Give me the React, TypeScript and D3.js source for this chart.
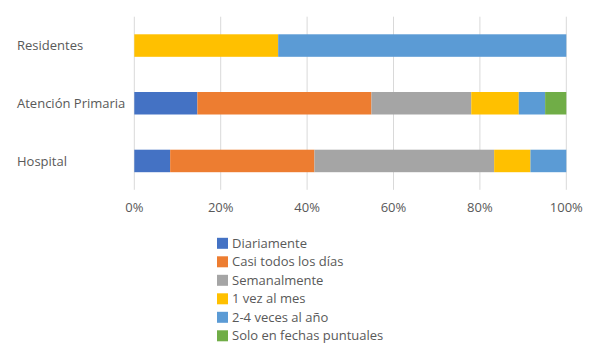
import React, { useEffect, useRef } from 'react';
import * as d3 from 'd3';

const categories = ['Residentes', 'Atención Primaria', 'Hospital'];
const seriesNames = [
  'Diariamente',
  'Casi todos los días',
  'Semanalmente',
  '1 vez al mes',
  '2-4 veces al año',
  'Solo en fechas puntuales',
];
const seriesColors = ['#4472c4', '#ed7d31', '#a5a5a5', '#ffc000', '#5b9bd5', '#70ad47'];
// percentages per category, in series order
const residentes = [0, 0, 0, 33.3, 66.7, 0];
const atencionPrimaria = [14.6, 40.3, 23.1, 11.0, 6.1, 4.9];
const hospital = [8.3, 33.4, 41.6, 8.4, 8.3, 0];
const tickValues = [0, 0.2, 0.4, 0.6, 0.8, 1];

const App: React.FC = () => {
  const svgRef = useRef<SVGSVGElement>(null);

  useEffect(() => {
    if (!svgRef.current) return;
    const svg = d3.select(svgRef.current);
    svg.selectAll('*').remove();

    const width = 600;
    const height = 360;
    const font = "'Open Sans', sans-serif";
    const textColor = '#595959';

    svg.attr('width', width).attr('height', height);
    svg.append('rect').attr('width', width).attr('height', height).attr('fill', '#fff');

    const rows = [residentes, atencionPrimaria, hospital];

    const x = d3.scaleLinear().domain([0, 1]).range([134.3, 566.3]);
    const y = d3.scaleBand().domain(categories).range([16.7, 189.8]).paddingInner(0.61).paddingOuter(0.305);

    // gridlines
    svg.append('g')
      .selectAll('line')
      .data(tickValues)
      .join('line')
      .attr('x1', d => x(d))
      .attr('x2', d => x(d))
      .attr('y1', 16.7)
      .attr('y2', 189.8)
      .attr('stroke', '#d9d9d9')
      .attr('stroke-width', 1);

    // stacked bars
    const stacked = rows.map((vals, i) => {
      let acc = 0;
      return vals.map((v, j) => {
        const s = acc;
        acc += v / 100;
        return { cat: categories[i], j, x0: s, x1: acc };
      });
    });

    svg.append('g')
      .selectAll('g')
      .data(stacked)
      .join('g')
      .selectAll('rect')
      .data(d => d.filter(s => s.x1 > s.x0))
      .join('rect')
      .attr('x', d => x(d.x0))
      .attr('width', d => x(d.x1) - x(d.x0))
      .attr('y', d => y(d.cat) as number)
      .attr('height', y.bandwidth())
      .attr('fill', d => seriesColors[d.j]);

    // category labels
    svg.append('g')
      .selectAll('text')
      .data(categories)
      .join('text')
      .attr('x', 17)
      .attr('y', d => (y(d) as number) + y.bandwidth() / 2)
      .attr('dy', '0.35em')
      .attr('fill', textColor)
      .style('font-family', font)
      .style('font-size', '13px')
      .text(d => d);

    // x tick labels
    svg.append('g')
      .selectAll('text')
      .data(tickValues)
      .join('text')
      .attr('x', d => x(d))
      .attr('y', 207)
      .attr('dy', '0.35em')
      .attr('text-anchor', 'middle')
      .attr('fill', textColor)
      .style('font-family', font)
      .style('font-size', '13px')
      .text(d => d3.format('.0%')(d));

    // legend
    const legend = svg.append('g')
      .selectAll('g')
      .data(seriesNames)
      .join('g')
      .attr('transform', (_, i) => `translate(217,${243.3 + i * 18.5})`);

    legend.append('rect')
      .attr('x', 0)
      .attr('y', -5.5)
      .attr('width', 11)
      .attr('height', 11)
      .attr('fill', (_, i) => seriesColors[i]);

    legend.append('text')
      .attr('x', 15)
      .attr('y', 0)
      .attr('dy', '0.35em')
      .attr('fill', textColor)
      .style('font-family', font)
      .style('font-size', '13px')
      .text(d => d);
  }, []);

  return <svg ref={svgRef} style={{ display: 'block', position: 'absolute', left: 0, top: 0 }}></svg>;
};

export default App;
